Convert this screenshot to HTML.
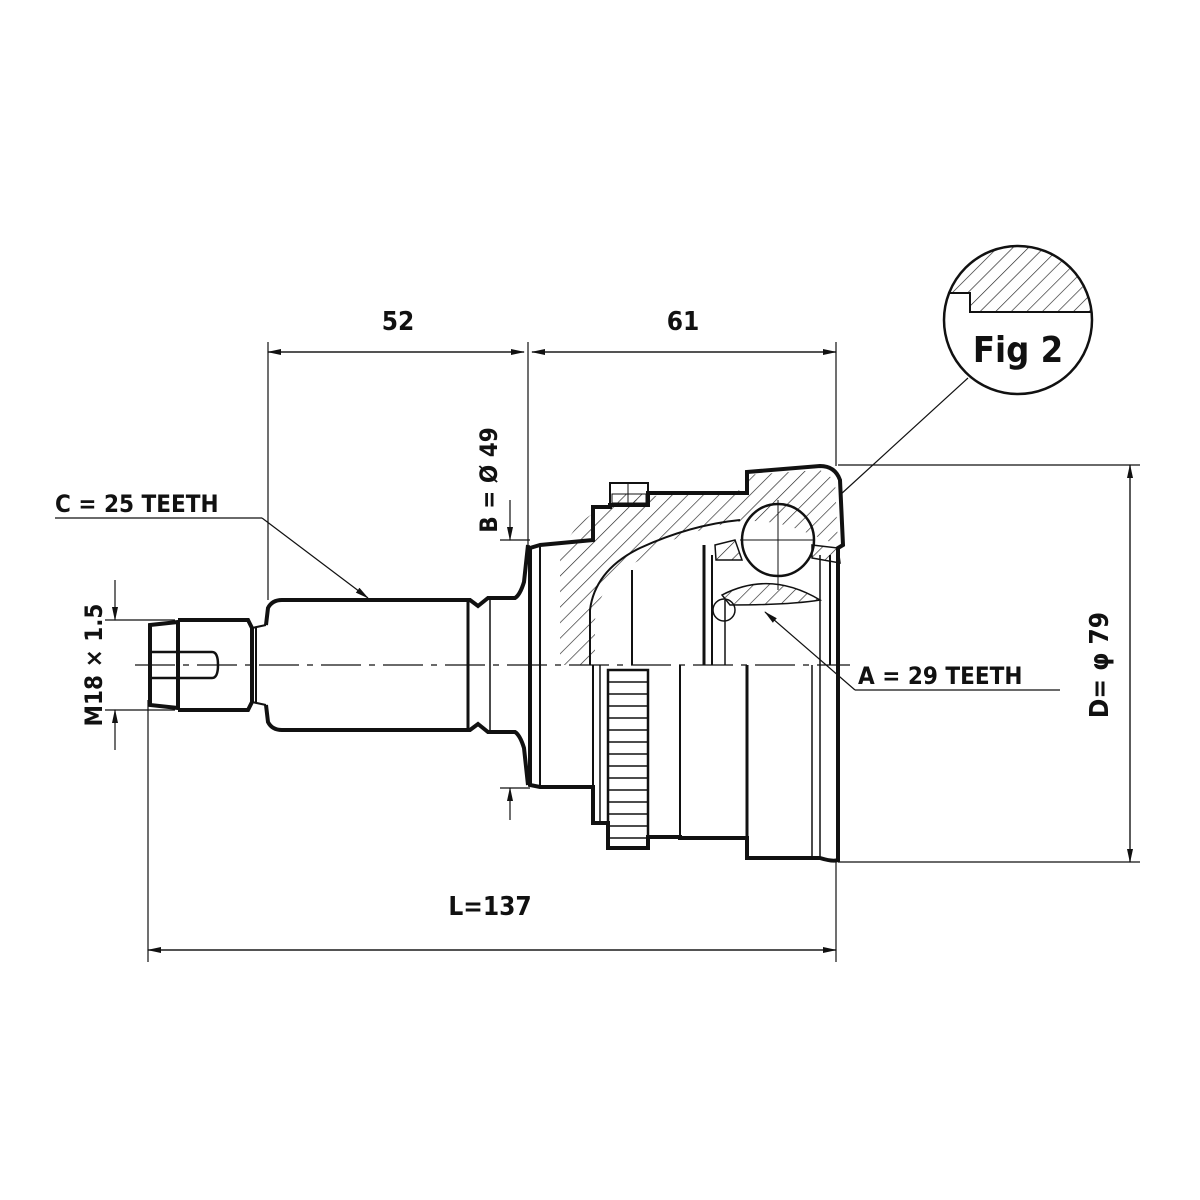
<!DOCTYPE html>
<html><head><meta charset="utf-8"><style>
html,body{margin:0;padding:0;background:#fff;width:1200px;height:1200px;overflow:hidden}
text{font-family:"DejaVu Sans Condensed","Liberation Sans",sans-serif;fill:#111;font-weight:bold}
</style></head><body>
<svg width="1200" height="1200" viewBox="0 0 1200 1200" xmlns="http://www.w3.org/2000/svg">
<defs>
<pattern id="h" width="11" height="11" patternUnits="userSpaceOnUse" patternTransform="rotate(45)">
<line x1="0" y1="0" x2="0" y2="11" stroke="#222" stroke-width="1.3"/></pattern>
<clipPath id="fc"><circle cx="1018" cy="320" r="74"/></clipPath>
<marker id="a" markerWidth="14" markerHeight="8" refX="13" refY="4" orient="auto" markerUnits="userSpaceOnUse"><path d="M0,1 L14,4 L0,7 Z" fill="#111"/></marker>
</defs>
<g stroke="#111" fill="none">
<line x1="135" y1="665" x2="850" y2="665" stroke-width="1.2" stroke-dasharray="40,8,6,8"/>
<path d="M150,625 L178,622 L178,708 L150,705 Z" stroke-width="4"/>
<path d="M178,620 L248,620 L252,628 L252,702 L248,710 L178,710" stroke-width="4"/>
<line x1="178" y1="622" x2="178" y2="708" stroke-width="2"/>
<path d="M152,652 L212,652 Q218,652 218,665 Q218,678 212,678 L152,678" stroke-width="2.5"/>
<line x1="252" y1="628" x2="266" y2="625" stroke-width="2"/>
<line x1="252" y1="702" x2="266" y2="705" stroke-width="2"/>
<line x1="256" y1="628" x2="256" y2="702" stroke-width="2"/>
<path d="M266,625 L268,608 Q272,600 282,600 L470,600 L478,606 L488,598 L515,598 Q520,595 524,582 L528,545" stroke-width="4"/>
<path d="M266,705 L268,722 Q272,730 282,730 L470,730 L478,724 L488,732 L515,732 Q520,735 524,748 L528,785" stroke-width="4"/>
<line x1="468" y1="602" x2="468" y2="728" stroke-width="3"/>
<line x1="490" y1="600" x2="490" y2="730" stroke-width="1.5"/>
<path d="M560,665 L560,560 Q570,520 610,505 L660,495 L745,490 L745,475 L820,470 L835,480 L838,545 L800,530 Q760,515 720,525 Q660,540 640,560 Q600,580 595,620 L595,665 Z" fill="url(#h)" stroke="none"/>
<path d="M715,545 L735,540 L742,560 L716,560 Z" fill="url(#h)" stroke-width="1.5"/>
<path d="M812,545 L838,548 L840,563 L812,558 Z" fill="url(#h)" stroke-width="1.5"/>
<path d="M722,595 Q770,570 820,600 Q790,605 730,605 Z" fill="url(#h)" stroke-width="1.5"/>
<path d="M540,545 L530,548 L530,785 L540,787 L593,787 L593,823 L608,823 L608,848 L648,848 L648,837 L680,837 L680,838 L747,838 L747,858 L820,858 Q833,862 838,860 L838,548 L843,545 L840,480 Q835,466 820,466 L747,472 L747,493 L648,493 L648,505 L610,505 L610,507 L593,507 L593,540 Z" stroke-width="4"/>
<line x1="540" y1="545" x2="540" y2="785" stroke-width="2"/>
<line x1="593" y1="665" x2="593" y2="823" stroke-width="2"/>
<path d="M610,483 L648,483 L648,505 L610,505 Z" stroke-width="2"/>
<path d="M612,494 L646,494 L646,503 L612,503 Z" fill="url(#h)" stroke-width="1"/>
<line x1="628" y1="483" x2="628" y2="505" stroke-width="1"/>
<path d="M590,665 L590,610 Q595,570 640,548 Q690,525 740,520" stroke-width="2"/>
<line x1="632" y1="570" x2="632" y2="665" stroke-width="2"/>
<line x1="704" y1="545" x2="704" y2="665" stroke-width="3"/>
<line x1="712" y1="555" x2="712" y2="665" stroke-width="2"/>
<line x1="725" y1="600" x2="725" y2="665" stroke-width="1.5"/>
<line x1="820" y1="555" x2="820" y2="665" stroke-width="1.5"/>
<line x1="830" y1="555" x2="830" y2="665" stroke-width="2"/>
<circle cx="778" cy="540" r="36" stroke-width="2.5"/>
<line x1="778" y1="500" x2="778" y2="590" stroke-width="1"/>
<line x1="740" y1="540" x2="815" y2="540" stroke-width="1"/>
<circle cx="724" cy="610" r="11" stroke-width="1.5"/>
<rect x="608" y="670" width="40" height="178" stroke-width="2.5"/>
<g stroke-width="1.5">
<line x1="608" y1="682" x2="648" y2="682"/><line x1="608" y1="694" x2="648" y2="694"/><line x1="608" y1="706" x2="648" y2="706"/><line x1="608" y1="718" x2="648" y2="718"/><line x1="608" y1="730" x2="648" y2="730"/><line x1="608" y1="742" x2="648" y2="742"/><line x1="608" y1="754" x2="648" y2="754"/><line x1="608" y1="766" x2="648" y2="766"/><line x1="608" y1="778" x2="648" y2="778"/><line x1="608" y1="790" x2="648" y2="790"/><line x1="608" y1="802" x2="648" y2="802"/><line x1="608" y1="814" x2="648" y2="814"/><line x1="608" y1="826" x2="648" y2="826"/><line x1="608" y1="838" x2="648" y2="838"/>
</g>
<line x1="600" y1="665" x2="600" y2="823" stroke-width="1.5"/>
<line x1="680" y1="665" x2="680" y2="838" stroke-width="2"/>
<line x1="747" y1="665" x2="747" y2="858" stroke-width="3"/>
<line x1="812" y1="665" x2="812" y2="858" stroke-width="1.5"/>
<line x1="820" y1="665" x2="820" y2="858" stroke-width="1.5"/>
<g stroke-width="1.2">
<line x1="268" y1="342" x2="268" y2="600"/>
<line x1="528" y1="342" x2="528" y2="545"/>
<line x1="836" y1="342" x2="836" y2="466"/>
<line x1="268" y1="352" x2="524" y2="352" marker-end="url(#a)"/>
<line x1="524" y1="352" x2="268" y2="352" marker-end="url(#a)"/>
<line x1="532" y1="352" x2="836" y2="352" marker-end="url(#a)"/>
<line x1="836" y1="352" x2="532" y2="352" marker-end="url(#a)"/>
<line x1="148" y1="700" x2="148" y2="962"/>
<line x1="836" y1="862" x2="836" y2="962"/>
<line x1="148" y1="950" x2="836" y2="950" marker-end="url(#a)"/>
<line x1="836" y1="950" x2="148" y2="950" marker-end="url(#a)"/>
<line x1="838" y1="465" x2="1140" y2="465"/>
<line x1="838" y1="862" x2="1140" y2="862"/>
<line x1="1130" y1="465" x2="1130" y2="862" marker-end="url(#a)"/>
<line x1="1130" y1="862" x2="1130" y2="465" marker-end="url(#a)"/>
<line x1="105" y1="620" x2="175" y2="620"/>
<line x1="105" y1="710" x2="175" y2="710"/>
<line x1="115" y1="580" x2="115" y2="620" marker-end="url(#a)"/>
<line x1="115" y1="750" x2="115" y2="710" marker-end="url(#a)"/>
<line x1="500" y1="540" x2="530" y2="540"/>
<line x1="500" y1="788" x2="530" y2="788"/>
<line x1="510" y1="500" x2="510" y2="540" marker-end="url(#a)"/>
<line x1="510" y1="820" x2="510" y2="788" marker-end="url(#a)"/>
<line x1="55" y1="518" x2="262" y2="518"/>
<line x1="262" y1="518" x2="368" y2="598" marker-end="url(#a)"/>
<line x1="855" y1="690" x2="1060" y2="690"/>
<line x1="855" y1="690" x2="765" y2="612" marker-end="url(#a)"/>
<line x1="840" y1="495" x2="968" y2="378"/>
</g>
<g clip-path="url(#fc)">
<path d="M940,312 L940,240 L1100,240 L1100,312 L970,312 L970,293 L945,293 Z" fill="url(#h)" stroke="none"/>
</g>
<path d="M948,293 L970,293 L970,312 L1092,312" stroke-width="2"/>
<circle cx="1018" cy="320" r="74" stroke-width="2.5"/>
</g>
<text x="1018" y="362" font-size="36" text-anchor="middle">Fig 2</text>
<text x="398" y="330" font-size="26" text-anchor="middle">52</text>
<text x="683" y="330" font-size="26" text-anchor="middle">61</text>
<text x="55" y="512" font-size="24">C = 25 TEETH</text>
<text x="858" y="684" font-size="24">A = 29 TEETH</text>
<text x="490" y="915" font-size="26" text-anchor="middle">L=137</text>
<text transform="translate(497,480) rotate(-90)" font-size="24" text-anchor="middle">B = Ø 49</text>
<text transform="translate(102,665) rotate(-90)" font-size="24" text-anchor="middle">M18 × 1.5</text>
<text transform="translate(1108,665) rotate(-90)" font-size="26" text-anchor="middle">D= φ 79</text>
</svg>
</body></html>
